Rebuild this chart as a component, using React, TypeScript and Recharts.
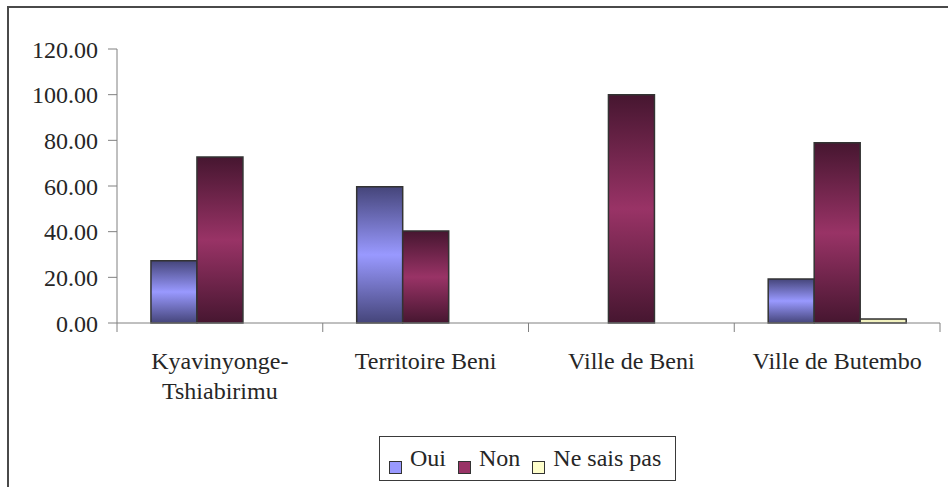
import React from "react";
import { BarChart, Bar, XAxis, YAxis, Legend } from "recharts";

const categories = ["Kyavinyonge-Tshiabirimu", "Territoire Beni", "Ville de Beni", "Ville de Butembo"];
const oui = [27.27, 59.7, 0, 19.3];
const non = [72.73, 40.3, 100, 78.95];
const neSaisPas = [0, 0, 0, 1.75];
const yTicks = [0, 20, 40, 60, 80, 100, 120];
const seriesNames = ["Oui", "Non", "Ne sais pas"];
const seriesColors = ["#9999FF", "#993366", "#FFFFCC"];

const data = categories.map((c, i) => ({
  name: c,
  oui: oui[i],
  non: non[i],
  nsp: neSaisPas[i],
}));

const AXIS = "#808080";
const TEXT = "#262626";
const SVG_FONT = "Times New Roman";
const CSS_FONT = '"Times New Roman"';

const CatTick = (props: any) => {
  const { x, y, payload, index, visibleTicksCount } = props;
  const half = payload && payload.offset != null ? payload.offset : 0;
  const label: string = String(payload.value);
  const hy = label.indexOf("-");
  const lines = hy > 0 ? [label.slice(0, hy + 1), label.slice(hy + 1)] : [label];
  return (
    <g>
      <line x1={x - half} x2={x - half} y1={y} y2={y + 9} stroke={AXIS} strokeWidth={1} />
      {index === visibleTicksCount - 1 && (
        <line x1={x + half} x2={x + half} y1={y} y2={y + 9} stroke={AXIS} strokeWidth={1} />
      )}
      {lines.map((l, i) => (
        <text key={i} x={x} y={y + 46 + i * 30} textAnchor="middle" fontFamily={SVG_FONT} fontSize={24} fill={TEXT}>
          {l}
        </text>
      ))}
    </g>
  );
};

const LegendBox = () => (
  <div
    style={{
      boxSizing: "border-box",
      width: 297,
      height: 45,
      border: "1px solid #3a3a3a",
      background: "#fff",
      display: "flex",
      alignItems: "flex-start",
      paddingLeft: 9,
      fontFamily: CSS_FONT,
      fontSize: 24,
      lineHeight: "24px",
      color: TEXT,
    }}
  >
    {seriesNames.map((n, i) => (
      <React.Fragment key={n}>
        <span
          style={{
            display: "inline-block",
            flex: "none",
            boxSizing: "border-box",
            width: 13,
            height: 13,
            marginTop: 24,
            marginRight: 8,
            background: seriesColors[i],
            border: "1.5px solid #333",
          }}
        />
        <span style={{ marginTop: 9, marginRight: 12, whiteSpace: "nowrap" }}>{n}</span>
      </React.Fragment>
    ))}
  </div>
);

export default function App() {
  return (
    <div style={{ position: "absolute", left: 0, top: 0, width: 948, height: 487, background: "#fff" }}>
      <div
        style={{
          position: "absolute",
          left: 7,
          top: 6,
          width: 941,
          height: 481,
          borderTop: "2px solid #4a4a4a",
          borderLeft: "2px solid #4a4a4a",
          boxSizing: "border-box",
        }}
      />
      <div style={{ position: "absolute", left: 0, top: 0 }}>
        <BarChart
          width={948}
          height={487}
          data={data}
          margin={{ top: 49, right: 8, left: 0, bottom: 104 }}
          barCategoryGap="16.5%"
          barGap={0}
        >
          <defs>
            <linearGradient id="gOui" x1="0" y1="0" x2="0" y2="1">
              <stop offset="0%" stopColor="#45457a" />
              <stop offset="50%" stopColor="#9999FF" />
              <stop offset="100%" stopColor="#45457a" />
            </linearGradient>
            <linearGradient id="gNon" x1="0" y1="0" x2="0" y2="1">
              <stop offset="0%" stopColor="#461630" />
              <stop offset="50%" stopColor="#993366" />
              <stop offset="100%" stopColor="#461630" />
            </linearGradient>
            <linearGradient id="gNsp" x1="0" y1="0" x2="0" y2="1">
              <stop offset="0%" stopColor="#cccc99" />
              <stop offset="50%" stopColor="#FFFFCC" />
              <stop offset="100%" stopColor="#cccc99" />
            </linearGradient>
          </defs>
          <XAxis
            dataKey="name"
            height={60}
            stroke={AXIS}
            tickLine={false}
            tickSize={0}
            tickMargin={0}
            interval={0}
            tick={<CatTick />}
          />
          <YAxis
            width={117}
            domain={[0, 120]}
            ticks={yTicks}
            interval={0}
            stroke={AXIS}
            tickSize={9}
            tickMargin={10}
            tickFormatter={(v: number) => v.toFixed(2)}
            tick={{ fontFamily: SVG_FONT, fontSize: 24, fill: TEXT }}
          />
          <Legend
            layout="horizontal"
            verticalAlign="middle"
            align="center"
            content={() => <LegendBox />}
            wrapperStyle={{ position: "absolute", left: 379, top: 436, width: 297, height: 45, right: "auto", bottom: "auto" }}
          />
          <Bar dataKey="oui" name={seriesNames[0]} fill="url(#gOui)" stroke="#333" strokeWidth={1.5} isAnimationActive={false} />
          <Bar dataKey="non" name={seriesNames[1]} fill="url(#gNon)" stroke="#333" strokeWidth={1.5} isAnimationActive={false} />
          <Bar dataKey="nsp" name={seriesNames[2]} fill="url(#gNsp)" stroke="#333" strokeWidth={1.5} isAnimationActive={false} />
        </BarChart>
      </div>
    </div>
  );
}
